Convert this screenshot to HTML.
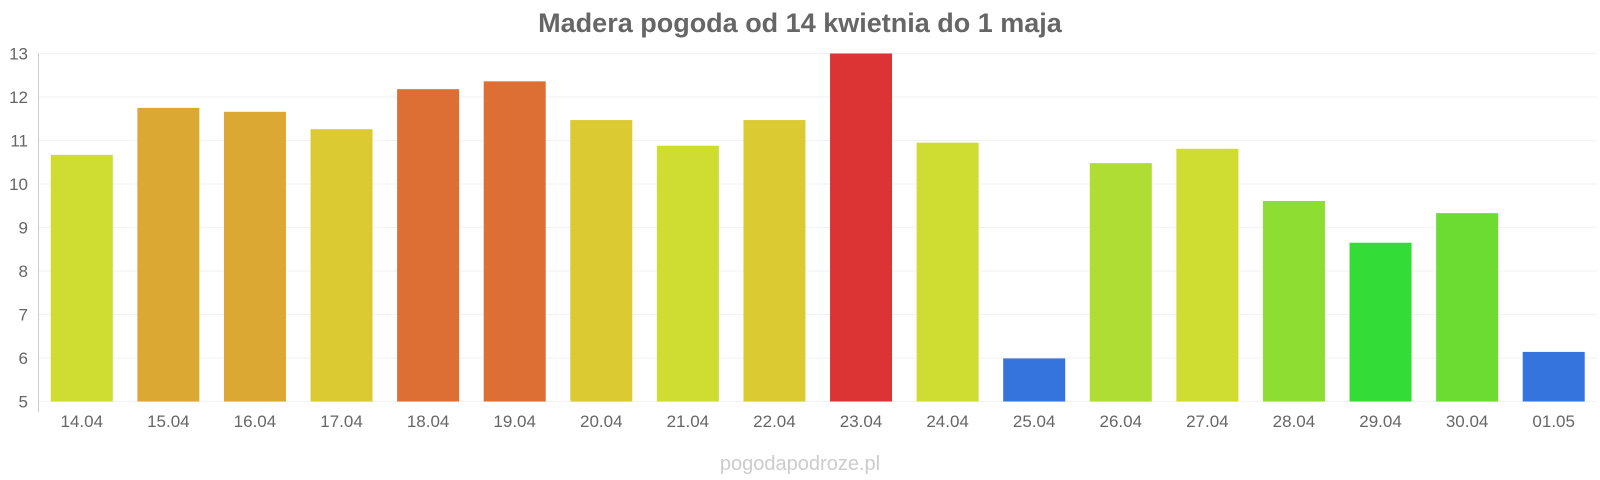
<!DOCTYPE html>
<html><head><meta charset="utf-8"><style>
html,body{margin:0;padding:0;background:#fff;width:1600px;height:480px;overflow:hidden}
</style></head><body>
<svg width="1600" height="480" xmlns="http://www.w3.org/2000/svg" font-family="Liberation Sans, sans-serif">
<text x="800" y="32" text-anchor="middle" font-size="27" font-weight="bold" fill="#666">Madera pogoda od 14 kwietnia do 1 maja</text>
<g id="grid" stroke="#f2f2f2" stroke-width="1"></g>
<line x1="38.5" y1="53" x2="38.5" y2="412" stroke="#ccc" stroke-width="1"/>
<g id="bars"></g>
<g id="ylab" font-size="17" fill="#666" text-anchor="end"></g>
<g id="xlab" font-size="17" fill="#666" text-anchor="middle"></g>
<text x="800" y="470" text-anchor="middle" font-size="20" fill="#ccc">pogodapodroze.pl</text>
<script>
(function(){
var ns="http://www.w3.org/2000/svg";
function el(p,t,a,tx){var e=document.createElementNS(ns,t);for(var k in a)e.setAttribute(k,a[k]);if(tx)e.textContent=tx;document.getElementById(p).appendChild(e);}
var yTop=53.5,yBot=401.5,u=(yBot-yTop)/8;
for(var v=5;v<=13;v++){var yy=yBot-(v-5)*u;el("grid","line",{x1:38.5,x2:1597,y1:yy,y2:yy});el("ylab","text",{x:28,y:yy+6},String(v));}
var d=[["14.04",10.67,"#cfdd33"],["15.04",11.75,"#dca834"],["16.04",11.66,"#dca834"],["17.04",11.26,"#dcca33"],["18.04",12.18,"#de6f34"],["19.04",12.36,"#de6f34"],["20.04",11.47,"#dcca33"],["21.04",10.88,"#cfdd33"],["22.04",11.47,"#dcca33"],["23.04",13,"#dc3434"],["24.04",10.95,"#cfdd33"],["25.04",5.99,"#3474dc"],["26.04",10.48,"#b0dd33"],["27.04",10.81,"#cfdd33"],["28.04",9.61,"#8edd33"],["29.04",8.65,"#33dc36"],["30.04",9.33,"#6cdc33"],["01.05",6.14,"#3474dc"]];
var slot=(1597-38.5)/18;
d.forEach(function(b,i){var cx=38.5+slot*(i+0.5);var yy=yBot-(b[1]-5)*u;
el("bars","rect",{x:cx-31,y:yy,width:62,height:yBot-yy,fill:b[2]});
el("xlab","text",{x:cx,y:427},b[0]);});
})();
</script>
</svg>
</body></html>
